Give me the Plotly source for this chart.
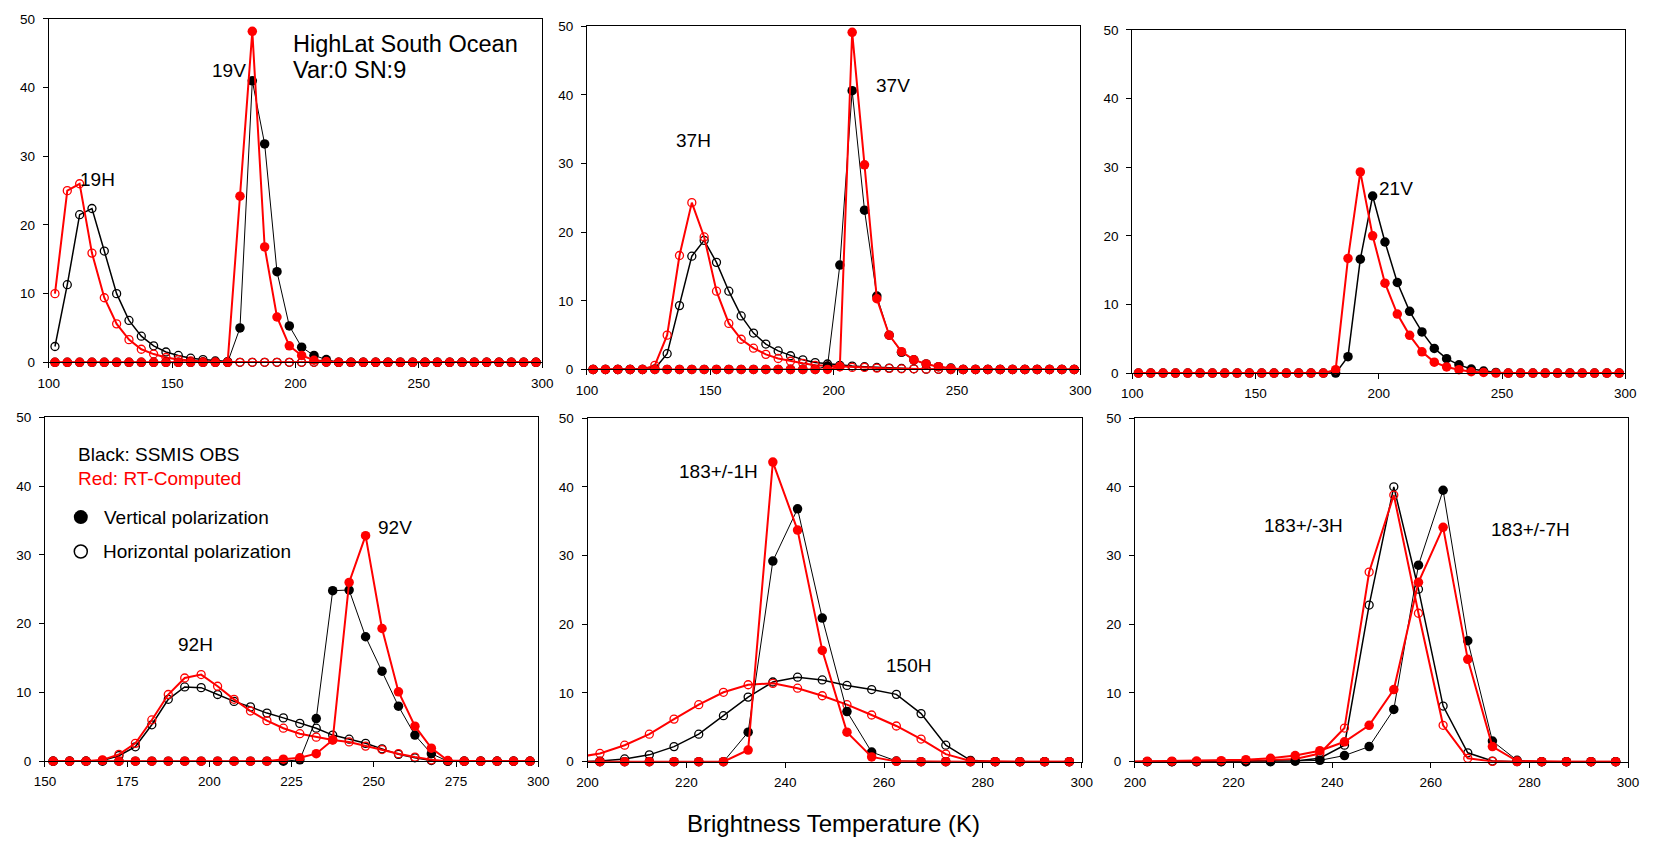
import plotly.graph_objects as go

W, H = 1663, 848
FONT = "Liberation Sans, Arial, sans-serif"
RED = "#FF0000"
BLACK = "#000000"

# ---------------- data (percent of samples per 5 K bin) ----------------
X_TOP = [102.5, 107.5, 112.5, 117.5, 122.5, 127.5, 132.5, 137.5, 142.5, 147.5,
         152.5, 157.5, 162.5, 167.5, 172.5, 177.5, 182.5, 187.5, 192.5, 197.5,
         202.5, 207.5, 212.5, 217.5, 222.5, 227.5, 232.5, 237.5, 242.5, 247.5,
         252.5, 257.5, 262.5, 267.5, 272.5, 277.5, 282.5, 287.5, 292.5, 297.5]
X_92 = [152.5, 157.5, 162.5, 167.5, 172.5, 177.5, 182.5, 187.5, 192.5, 197.5,
        202.5, 207.5, 212.5, 217.5, 222.5, 227.5, 232.5, 237.5, 242.5, 247.5,
        252.5, 257.5, 262.5, 267.5, 272.5, 277.5, 282.5, 287.5, 292.5, 297.5]
X_183 = [197.5, 202.5, 207.5, 212.5, 217.5, 222.5, 227.5, 232.5, 237.5, 242.5,
         247.5, 252.5, 257.5, 262.5, 267.5, 272.5, 277.5, 282.5, 287.5, 292.5, 297.5]

# 19 GHz
obs_19H = [2.3, 11.3, 21.5, 22.4, 16.2, 10.0, 6.1, 3.8, 2.4, 1.5,
           1.0, 0.6, 0.4, 0.2, 0.1, 0, 0, 0, 0, 0,
           0, 0, 0, 0, 0, 0, 0, 0, 0, 0,
           0, 0, 0, 0, 0, 0, 0, 0, 0, 0]
rt_19H = [10.0, 25.0, 26.0, 15.9, 9.4, 5.6, 3.3, 1.9, 1.2, 0.7,
          0.4, 0.2, 0.1, 0.05, 0, 0, 0, 0, 0, 0,
          0, 0, 0, 0, 0, 0, 0, 0, 0, 0,
          0, 0, 0, 0, 0, 0, 0, 0, 0, 0]
obs_19V = [0, 0, 0, 0, 0, 0, 0, 0, 0, 0,
           0, 0, 0, 0, 0, 5.0, 41.0, 31.8, 13.2, 5.3,
           2.2, 1.0, 0.4, 0, 0, 0, 0, 0, 0, 0,
           0, 0, 0, 0, 0, 0, 0, 0, 0, 0]
rt_19V = [0, 0, 0, 0, 0, 0, 0, 0, 0, 0,
          0, 0, 0, 0, 0, 24.2, 48.2, 16.8, 6.6, 2.4,
          1.0, 0.3, 0.1, 0, 0, 0, 0, 0, 0, 0,
          0, 0, 0, 0, 0, 0, 0, 0, 0, 0]

# 37 GHz
obs_37H = [0, 0, 0, 0, 0, 0.1, 2.3, 9.3, 16.5, 18.8,
           15.6, 11.4, 7.8, 5.3, 3.7, 2.7, 2.0, 1.4, 1.0, 0.8,
           0.6, 0.5, 0.4, 0.3, 0.2, 0.15, 0.1, 0.05, 0.02, 0,
           0, 0, 0, 0, 0, 0, 0, 0, 0, 0]
rt_37H = [0, 0, 0, 0, 0, 0.6, 5.0, 16.6, 24.3, 19.3,
          11.4, 6.7, 4.4, 3.1, 2.2, 1.6, 1.2, 0.9, 0.6, 0.5,
          0.4, 0.3, 0.3, 0.2, 0.15, 0.1, 0.1, 0.05, 0.02, 0,
          0, 0, 0, 0, 0, 0, 0, 0, 0, 0]
obs_37V = [0, 0, 0, 0, 0, 0, 0, 0, 0, 0,
           0, 0, 0, 0, 0, 0, 0, 0, 0, 0.5,
           15.2, 40.6, 23.2, 10.7, 5.0, 2.5, 1.4, 0.8, 0.4, 0.2,
           0, 0, 0, 0, 0, 0, 0, 0, 0, 0]
rt_37V = [0, 0, 0, 0, 0, 0, 0, 0, 0, 0,
          0, 0, 0, 0, 0, 0, 0, 0, 0, 0,
          0.4, 49.1, 29.8, 10.3, 5.0, 2.6, 1.4, 0.8, 0.4, 0.15,
          0, 0, 0, 0, 0, 0, 0, 0, 0, 0]

# 22 GHz (21V)
obs_21V = [0, 0, 0, 0, 0, 0, 0, 0, 0, 0,
           0, 0, 0, 0, 0, 0, 0, 2.4, 16.6, 25.8,
           19.1, 13.2, 9.0, 6.0, 3.6, 2.1, 1.2, 0.6, 0.3, 0.1,
           0, 0, 0, 0, 0, 0, 0, 0, 0, 0]
rt_21V = [0, 0, 0, 0, 0, 0, 0, 0, 0, 0,
          0, 0, 0, 0, 0, 0, 0.5, 16.7, 29.3, 20.0,
          13.1, 8.6, 5.5, 3.1, 1.6, 0.9, 0.5, 0.2, 0.1, 0,
          0, 0, 0, 0, 0, 0, 0, 0, 0, 0]

# 92 GHz
obs_92H = [0, 0, 0, 0.1, 0.8, 2.1, 5.3, 9.0, 10.8, 10.7,
           9.7, 8.7, 7.9, 7.0, 6.3, 5.5, 4.8, 3.8, 3.2, 2.6,
           1.8, 1.0, 0.5, 0.1, 0, 0, 0, 0, 0, 0]
rt_92H = [0, 0, 0, 0.2, 1.0, 2.6, 6.0, 9.7, 12.1, 12.6,
          10.9, 9.0, 7.3, 5.9, 4.8, 4.0, 3.5, 3.1, 2.8, 2.2,
          1.7, 1.1, 0.6, 0.2, 0, 0, 0, 0, 0, 0]
obs_92V = [0, 0, 0, 0, 0, 0, 0, 0, 0, 0,
           0, 0, 0, 0, 0, 0.2, 6.2, 24.8, 24.9, 18.1,
           13.1, 8.0, 3.8, 1.1, 0, 0, 0, 0, 0, 0]
rt_92V = [0, 0, 0, 0.1, 0, 0, 0, 0, 0, 0,
          0, 0, 0, 0, 0.3, 0.5, 1.1, 3.1, 26.0, 32.8,
          19.3, 10.1, 5.1, 1.9, 0.1, 0, 0, 0, 0, 0]

# 150H and 183+/-1
obs_150H = [0, 0.1, 0.4, 1.0, 2.2, 4.0, 6.7, 9.4, 11.6, 12.3,
            11.9, 11.1, 10.5, 9.8, 7.0, 2.4, 0.2, 0, 0, 0, 0]
rt_150H = [0.6, 1.2, 2.4, 4.0, 6.2, 8.3, 10.1, 11.2, 11.4, 10.7,
           9.6, 8.3, 6.8, 5.2, 3.3, 1.1, 0.1, 0, 0, 0, 0]
obs_183_1 = [0, 0, 0, 0, 0, 0, 0, 4.3, 29.2, 36.8,
             20.9, 7.3, 1.4, 0.1, 0, 0, 0, 0, 0, 0, 0]
rt_183_1 = [0, 0, 0, 0, 0, 0, 0, 1.7, 43.6, 33.7,
            16.2, 4.3, 0.7, 0.05, 0, 0, 0, 0, 0, 0, 0]

# 183+/-3 and 183+/-7
obs_183_3 = [0, 0, 0, 0, 0, 0, 0.05, 0.1, 0.5, 2.4,
             22.8, 40.0, 25.1, 8.1, 1.3, 0.1, 0, 0, 0, 0, 0]
rt_183_3 = [0, 0, 0, 0, 0.05, 0.1, 0.2, 0.4, 1.2, 4.9,
            27.6, 38.8, 21.6, 5.3, 0.5, 0.05, 0, 0, 0, 0, 0]
obs_183_7 = [0, 0, 0, 0, 0, 0, 0, 0.1, 0.2, 0.9,
             2.2, 7.6, 28.6, 39.5, 17.6, 3.0, 0.2, 0, 0, 0, 0]
rt_183_7 = [0, 0.05, 0.08, 0.1, 0.15, 0.3, 0.5, 0.9, 1.6, 2.9,
            5.3, 10.5, 26.1, 34.1, 14.9, 2.2, 0.1, 0, 0, 0, 0]

Y_TICKS = [0, 10, 20, 30, 40, 50]

# ---------------- layout (pixel boxes: left, right, top, bottom) ----------------
PANELS = [
    (38.3, 538.3, 12.2, 361.7),
    (583.7, 1083.7, 19.5, 369.0),
    (1136.3, 1636.0, 23.3, 372.7),
    (34.4, 534.3, 417.8, 767.8),
    (584.3, 1085.0, 418.5, 768.3),
    (1139.0, 1638.7, 418.5, 768.3),
]
X_RANGES = [(100, 300, 50), (100, 300, 50), (100, 300, 50),
            (150, 300, 25), (200, 300, 20), (200, 300, 20)]

fig = go.Figure()


def ax_ids(i):
    return ("x" if i == 0 else f"x{i+1}"), ("y" if i == 0 else f"y{i+1}")


def add_series(i, xs, ys, color, filled, lw):
    xa, ya = ax_ids(i)
    assert len(xs) == len(ys), (i, len(xs), len(ys))
    if filled:
        marker = dict(symbol="circle", size=9.5, color=color, line=dict(width=0))
    else:
        marker = dict(symbol="circle-open", size=8, color=color,
                      line=dict(width=1.3, color=color))
    fig.add_trace(go.Scatter(
        x=xs, y=ys, xaxis=xa, yaxis=ya, mode="lines+markers",
        line=dict(color=color, width=lw), marker=marker,
        cliponaxis=False, showlegend=False, hoverinfo="skip"))


# order: obs open, RT open, obs filled, RT filled
add_series(0, X_TOP, obs_19H, BLACK, False, 1.5)
add_series(0, X_TOP, rt_19H, RED, False, 2)
add_series(0, X_TOP, obs_19V, BLACK, True, 1.0)
add_series(0, X_TOP, rt_19V, RED, True, 2)

add_series(1, X_TOP, obs_37H, BLACK, False, 1.5)
add_series(1, X_TOP, rt_37H, RED, False, 2)
add_series(1, X_TOP, obs_37V, BLACK, True, 1.0)
add_series(1, X_TOP, rt_37V, RED, True, 2)

add_series(2, X_TOP, obs_21V, BLACK, True, 1.5)
add_series(2, X_TOP, rt_21V, RED, True, 2)

add_series(3, X_92, obs_92H, BLACK, False, 1.5)
add_series(3, X_92, rt_92H, RED, False, 2)
add_series(3, X_92, obs_92V, BLACK, True, 1.0)
add_series(3, X_92, rt_92V, RED, True, 2)

add_series(4, X_183, obs_150H, BLACK, False, 1.5)
add_series(4, X_183, rt_150H, RED, False, 2)
add_series(4, X_183, obs_183_1, BLACK, True, 1.0)
add_series(4, X_183, rt_183_1, RED, True, 2)

add_series(5, X_183, obs_183_3, BLACK, False, 1.5)
add_series(5, X_183, rt_183_3, RED, False, 2)
add_series(5, X_183, obs_183_7, BLACK, True, 1.0)
add_series(5, X_183, rt_183_7, RED, True, 2)

# legend symbols inside panel 4
LEG_SYM_X = 160.9
LEG_V_Y = 35.5
LEG_H_Y = 30.5
fig.add_trace(go.Scatter(x=[LEG_SYM_X], y=[LEG_V_Y], xaxis="x4", yaxis="y4", mode="markers",
                         marker=dict(symbol="circle", size=14, color=BLACK),
                         showlegend=False, hoverinfo="skip", cliponaxis=False))
fig.add_trace(go.Scatter(x=[LEG_SYM_X], y=[LEG_H_Y], xaxis="x4", yaxis="y4", mode="markers",
                         marker=dict(symbol="circle-open", size=13, color=BLACK,
                                     line=dict(width=1.5, color=BLACK)),
                         showlegend=False, hoverinfo="skip", cliponaxis=False))

layout = dict(width=W, height=H, margin=dict(l=0, r=0, t=0, b=0),
              paper_bgcolor="white", plot_bgcolor="white",
              font=dict(family=FONT, color=BLACK))

for i, (l, r, t, b) in enumerate(PANELS):
    xa, ya = ax_ids(i)
    xname = "xaxis" if i == 0 else f"xaxis{i+1}"
    yname = "yaxis" if i == 0 else f"yaxis{i+1}"
    x0, x1, dx = X_RANGES[i]
    common = dict(showline=True, linecolor=BLACK, linewidth=1, mirror=True,
                  ticks="outside", ticklen=5, tickwidth=1, tickcolor=BLACK,
                  showgrid=False, zeroline=False, fixedrange=True,
                  tickfont=dict(family=FONT, size=13.5, color=BLACK))
    layout[xname] = dict(common, domain=[l / W, r / W], anchor=ya, range=[x0, x1],
                         tickmode="linear", tick0=x0, dtick=dx, ticklabelstandoff=3)
    layout[yname] = dict(common, domain=[1 - b / H, 1 - t / H], anchor=xa, range=[0, 50],
                         tickmode="array", tickvals=Y_TICKS, ticklabelstandoff=5)

fig.update_layout(**layout)


def label(i, text, x, y, size=19, color=BLACK, xanchor="center"):
    xa, ya = ax_ids(i)
    fig.add_annotation(x=x, y=y, xref=xa, yref=ya, text=text, showarrow=False,
                       xanchor=xanchor, yanchor="middle",
                       font=dict(family=FONT, size=size, color=color))


label(0, "HighLat South Ocean", 198.1, 46.3, size=23.5, xanchor="left")
label(0, "Var:0 SN:9", 198.1, 42.6, size=23.5, xanchor="left")
label(0, "19V", 173.1, 42.5)
label(0, "19H", 119.8, 26.6)
label(1, "37H", 143.2, 33.3)
label(1, "37V", 224.1, 41.3)
label(2, "21V", 207.0, 26.9)
label(3, "Black: SSMIS OBS", 159.3, 44.6, xanchor="left")
label(3, "Red: RT-Computed", 159.3, 41.1, color=RED, xanchor="left")
label(3, "Vertical polarization", 167.4, LEG_V_Y, xanchor="left")
label(3, "Horizontal polarization", 167.1, LEG_H_Y, xanchor="left")
label(3, "92H", 195.8, 17.0)
label(3, "92V", 256.3, 34.0)
label(4, "183+/-1H", 226.4, 42.3)
label(4, "150H", 265.0, 14.0)
label(5, "183+/-3H", 234.1, 34.3)
label(5, "183+/-7H", 280.3, 33.8)

fig.add_annotation(x=834.0 / W, y=1 - 831.7 / H, xref="paper", yref="paper",
                   text="Brightness Temperature (K)", showarrow=False,
                   xanchor="center", yanchor="middle",
                   font=dict(family=FONT, size=24, color=BLACK))

fig.write_html("out.html")
